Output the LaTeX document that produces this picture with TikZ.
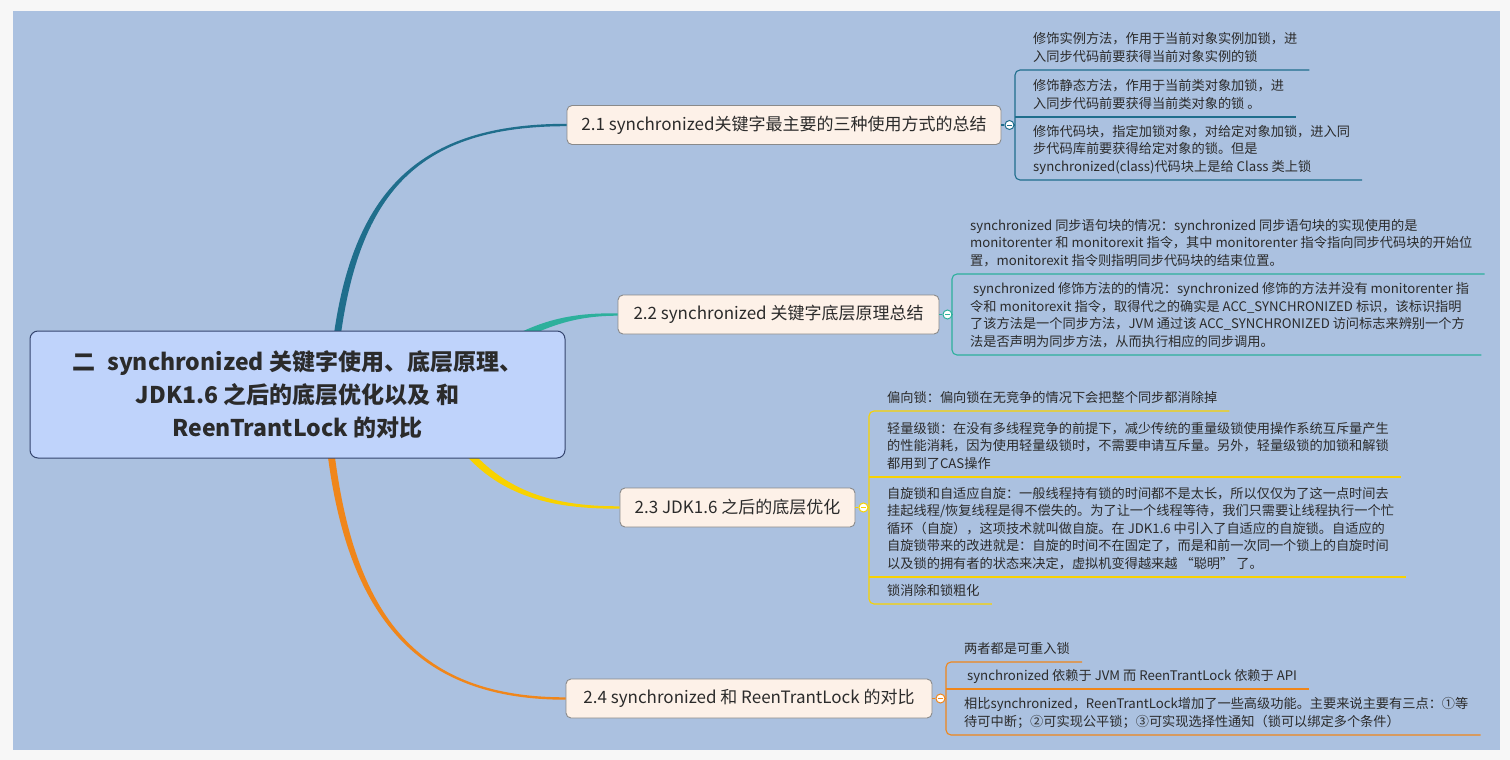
\documentclass[tikz,border=0pt]{standalone}
\usepackage{fontspec}
\setmainfont{Noto Sans CJK SC}
\usetikzlibrary{positioning,calc}
\definecolor{outer}{HTML}{F7F7F7}
\definecolor{bgblue}{HTML}{ABC1E0}
\definecolor{rootfill}{HTML}{BFD3FB}
\definecolor{rootline}{HTML}{34446E}
\definecolor{subfill}{HTML}{FDF1E8}
\definecolor{subline}{HTML}{8A8A8A}
\definecolor{txt}{HTML}{2B2B2B}
\definecolor{cA}{HTML}{1F6E8C}
\definecolor{cB}{HTML}{2DB09C}
\definecolor{cC}{HTML}{F8D200}
\definecolor{cD}{HTML}{F0861A}
\tikzset{root/.style = {draw=rootline,fill=rootfill,rounded corners=8pt,line width=1pt,minimum width=535pt,minimum height=127pt,align=center,text=txt,font=\fontsize{23pt}{33pt}\selectfont\bfseries}}
\tikzset{sub/.style = {draw=subline,fill=subfill,rounded corners=5pt,line width=0.9pt,minimum height=39pt,text=txt,font=\fontsize{17pt}{20pt}\selectfont}}
\tikzset{leaf/.style = {inner xsep=0pt,inner ysep=6pt,text depth=2.5pt,align=left,anchor=south west,text=txt,font=\fontsize{13.2pt}{17.5pt}\selectfont}}
\tikzset{tog/.style = {circle,draw=#1,fill=white,line width=1pt,minimum size=9pt,inner sep=0pt}}
\tikzset{twig/.style = {#1,line width=1.1pt}}

\begin{document}
\begin{tikzpicture}[x=1pt,y=-1pt]
  \fill[outer] (0,0) rectangle (1510,760);
  \fill[bgblue] (13,11) rectangle (1500,750);

      \coordinate (s1) at (336,345);
      \coordinate (s2) at (505,345);
      \coordinate (s3) at (462,445);
      \coordinate (s4) at (330,445);

      \node[sub,minimum width=434pt] (b1) at (784,125) {2.1 synchronized关键字最主要的三种使用方式的总结};
      \node[sub,minimum width=321pt] (b2) at (778.5,314.5) {2.2 synchronized 关键字底层原理总结};
      \node[sub,minimum width=235pt] (b3) at (737.5,507.5) {2.3 JDK1.6 之后的底层优化};
      \node[sub,minimum width=366pt] (b4) at (749,698.5) {2.4 synchronized 和 ReenTrantLock 的对比};

 \foreach \s/\ox/\oy/\p/\q/\e/\c in {s1/-3.5/0/{355,190}/{420,125}/b1/cA,
     s2/-2/-3.2/{550,318}/{585,314.5}/b2/cB,
     s3/2.6/-2.4/{505,500}/{565,507.5}/b3/cC,
     s4/3.5/0/{350,620}/{420,698.5}/b4/cD}
   \fill[\c] ($(\s)+(\ox,\oy)$) .. controls ($(\p)+(\ox,\oy)$) and ($(\q)+(0,-1.3)$) .. ($(\e.west)+(0,-1.2)$)
     -- ($(\e.west)+(0,1.2)$) .. controls ($(\q)+(0,1.3)$) and ($(\p)-(\ox,\oy)$) .. ($(\s)-(\ox,\oy)$) -- cycle;

      \node[root] (root) at (297.5,394.5) {二\enspace synchronized 关键字使用、底层原理、\\JDK1.6 之后的底层优化以及 和\\ReenTrantLock 的对比};

      \node[tog=cA,right=3pt of b1] (t1) {};
      \node[tog=cB,right=3pt of b2] (t2) {};
      \node[tog=cC,right=3pt of b3] (t3) {};
      \node[tog=cD,right=3pt of b4] (t4) {};

      \node[leaf] (a1) at (1033,70) {修饰实例方法，作用于当前对象实例加锁，进\\入同步代码前要获得当前对象实例的锁};
      \node[leaf] (a2) at (1033,117) {修饰静态方法，作用于当前类对象加锁，进\\入同步代码前要获得当前类对象的锁 。};
      \node[leaf] (a3) at (1033,180) {修饰代码块，指定加锁对象，对给定对象加锁，进入同\\步代码库前要获得给定对象的锁。但是\\synchronized(class)代码块上是给 Class 类上锁};

      \node[leaf] (p1) at (970,274) {synchronized 同步语句块的情况：synchronized 同步语句块的实现使用的是\\monitorenter 和 monitorexit 指令，其中 monitorenter 指令指向同步代码块的开始位\\置，monitorexit 指令则指明同步代码块的结束位置。};
      \node[leaf] (p2) at (970,355) {~synchronized 修饰方法的的情况：synchronized 修饰的方法并没有 monitorenter 指\\令和 monitorexit 指令，取得代之的确实是 ACC\_SYNCHRONIZED 标识，该标识指明\\了该方法是一个同步方法，JVM 通过该 ACC\_SYNCHRONIZED 访问标志来辨别一个方\\法是否声明为同步方法，从而执行相应的同步调用。};

      \node[leaf] (c1) at (887,411) {偏向锁：偏向锁在无竞争的情况下会把整个同步都消除掉};
      \node[leaf] (c2) at (887,477) {轻量级锁：在没有多线程竞争的前提下，减少传统的重量级锁使用操作系统互斥量产生\\的性能消耗，因为使用轻量级锁时，不需要申请互斥量。另外，轻量级锁的加锁和解锁\\都用到了CAS操作};
      \node[leaf] (c3) at (887,577) {自旋锁和自适应自旋：一般线程持有锁的时间都不是太长，所以仅仅为了这一点时间去\\挂起线程/恢复线程是得不偿失的。为了让一个线程等待，我们只需要让线程执行一个忙\\循环（自旋），这项技术就叫做自旋。在 JDK1.6 中引入了自适应的自旋锁。自适应的\\自旋锁带来的改进就是：自旋的时间不在固定了，而是和前一次同一个锁上的自旋时间\\以及锁的拥有者的状态来决定，虚拟机变得越来越 “聪明” 了。};
      \node[leaf] (c4) at (887,604) {锁消除和锁粗化};

      \node[leaf] (d1) at (964,662) {两者都是可重入锁};
      \node[leaf] (d2) at (964,689) {~synchronized 依赖于 JVM 而 ReenTrantLock 依赖于 API};
      \node[leaf] (d3) at (964,735) {相比synchronized，ReenTrantLock增加了一些高级功能。主要来说主要有三点：①等\\待可中断；②可实现公平锁；③可实现选择性通知（锁可以绑定多个条件）};

      \coordinate (k1) at ([xshift=-18pt]a1.south west);
      \coordinate (k2) at ([xshift=-18pt]p1.south west);
      \coordinate (k3) at ([xshift=-18pt]c1.south west);
      \coordinate (k4) at ([xshift=-18pt]d1.south west);

 \foreach \k/\f/\l/\c in {k1/a1/a3/cA,k2/p1/p2/cB,k3/c1/c4/cC,k4/d1/d3/cD}
   \draw[twig=\c,rounded corners=5pt] ([xshift=12pt]\f.south east) -- (\k) -- (\k |- \l.south) -- ([xshift=12pt]\l.south east);

 \foreach \k/\n/\c in {k1/a2/cA,k3/c2/cC,k3/c3/cC,k4/d2/cD}
   \draw[twig=\c] (\k |- \n.south) -- ([xshift=12pt]\n.south east);

 \foreach \b/\t/\k/\c in {b1/t1/k1/cA,b2/t2/k2/cB,b3/t3/k3/cC,b4/t4/k4/cD}
   {\draw[twig=\c] (\b.east) -- (\t.west);
    \draw[twig=\c] (\t.east) -- (\t.east -| \k);
    \draw[\c,line width=1pt] ([xshift=-2.2pt]\t.center) -- ([xshift=2.2pt]\t.center);}

\end{tikzpicture}
\end{document}
